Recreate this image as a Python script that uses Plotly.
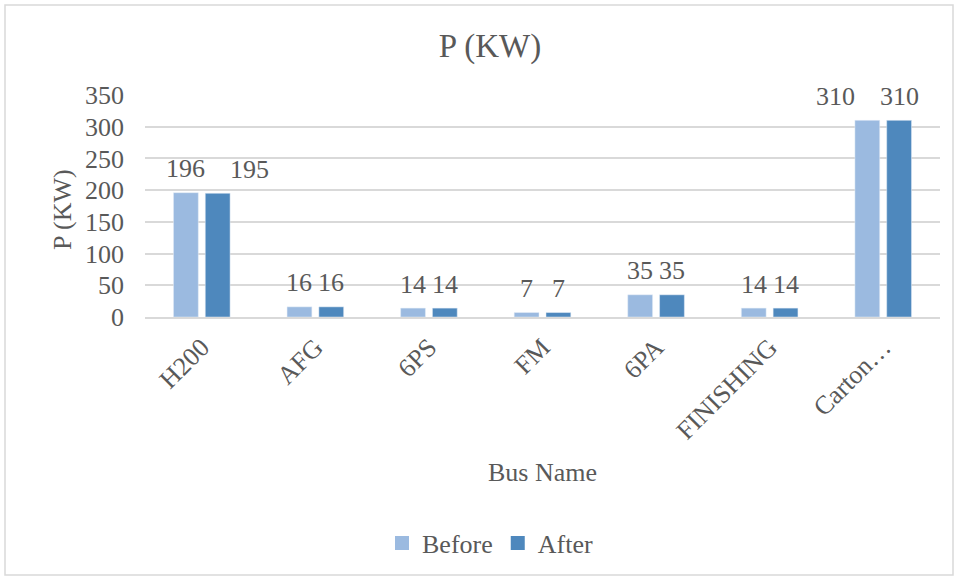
import plotly.graph_objects as go

categories = ["H200", "AFG", "6PS", "FM", "6PA", "FINISHING", "Carton…"]
before = [196, 16, 14, 7, 35, 14, 310]
after = [195, 16, 14, 7, 35, 14, 310]
y_ticks = [0, 50, 100, 150, 200, 250, 300, 350]

FONT = "Liberation Serif"
TXT = "#595959"
C_BEFORE = "#9BBAE0"
C_AFTER = "#4E88BD"

L, R, T, B = 145, 18, 95, 261
W, H = 958, 578
pw, ph = W - L - R, H - T - B

def px_x(p):
    return (p - L) / pw

def px_y(p):
    return (H - B - p) / ph

fig = go.Figure()
fig.add_trace(go.Bar(name="Before", x=categories, y=before, marker_color=C_BEFORE, showlegend=False))
fig.add_trace(go.Bar(name="After", x=categories, y=after, marker_color=C_AFTER, showlegend=False))
# legend entries with square swatches
fig.add_trace(go.Scatter(name="Before", x=[None], y=[None], mode="markers",
                         marker=dict(symbol="square", size=14, color=C_BEFORE)))
fig.add_trace(go.Scatter(name="After", x=[None], y=[None], mode="markers",
                         marker=dict(symbol="square", size=14, color=C_AFTER)))

annotations = []
# data labels (Excel nudges overlapping 3-digit labels apart)
for c, vb, va in zip(categories, before, after):
    sb, sa = -16, 16
    if len(str(vb)) >= 3:
        if vb > 250:
            sb -= 32
        else:
            sa += 32
    for v, s in ((vb, sb), (va, sa)):
        annotations.append(dict(x=c, y=v, xref="x", yref="y", text=str(v), showarrow=False,
                                xshift=s, yshift=24, yanchor="middle",
                                font=dict(family=FONT, size=26, color=TXT)))

annotations.append(dict(text="Bus Name", xref="paper", yref="paper", x=px_x(542), y=px_y(472),
                        showarrow=False, xanchor="center", yanchor="middle",
                        font=dict(family=FONT, size=26, color=TXT)))
annotations.append(dict(text="P (KW)", xref="paper", yref="paper", x=px_x(62), y=px_y(210),
                        showarrow=False, xanchor="center", yanchor="middle", textangle=-90,
                        font=dict(family=FONT, size=26, color=TXT)))

fig.update_layout(
    width=W, height=H,
    margin=dict(l=L, r=R, t=T, b=B, autoexpand=False),
    paper_bgcolor="white", plot_bgcolor="white",
    barmode="group", bargap=0.44, bargroupgap=0.22,
    title=dict(text="P (KW)", xref="container", yref="container", x=490 / W, xanchor="center",
               y=1 - 45 / H, yanchor="middle",
               font=dict(family=FONT, size=33, color=TXT)),
    font=dict(family=FONT, size=26, color=TXT),
    showlegend=True,
    legend=dict(orientation="h", x=px_x(490), xanchor="center", y=px_y(543), yanchor="middle",
                font=dict(family=FONT, size=26, color=TXT), bgcolor="rgba(0,0,0,0)",
                itemwidth=30, tracegroupgap=0),
    annotations=annotations,
    shapes=[dict(type="rect", xref="paper", yref="paper",
                 x0=px_x(5), x1=px_x(953), y0=px_y(575), y1=px_y(5),
                 line=dict(color="#D9D9D9", width=1.5), fillcolor="rgba(0,0,0,0)", layer="below")],
)
fig.update_yaxes(range=[0, 350], tickvals=y_ticks, showgrid=True, gridcolor="#D9D9D9", gridwidth=1.5,
                 zeroline=False, showline=False, ticks="", ticklabelstandoff=20, automargin=False,
                 tickfont=dict(family=FONT, size=26, color=TXT))
fig.update_xaxes(tickangle=-45, showline=True, linecolor="#D9D9D9", linewidth=1.5, ticks="",
                 ticklabelstandoff=3, automargin=False,
                 tickfont=dict(family=FONT, size=26, color=TXT))

fig.write_html("out.html", config={"displayModeBar": False},
               post_script="document.body.style.margin='0';")
